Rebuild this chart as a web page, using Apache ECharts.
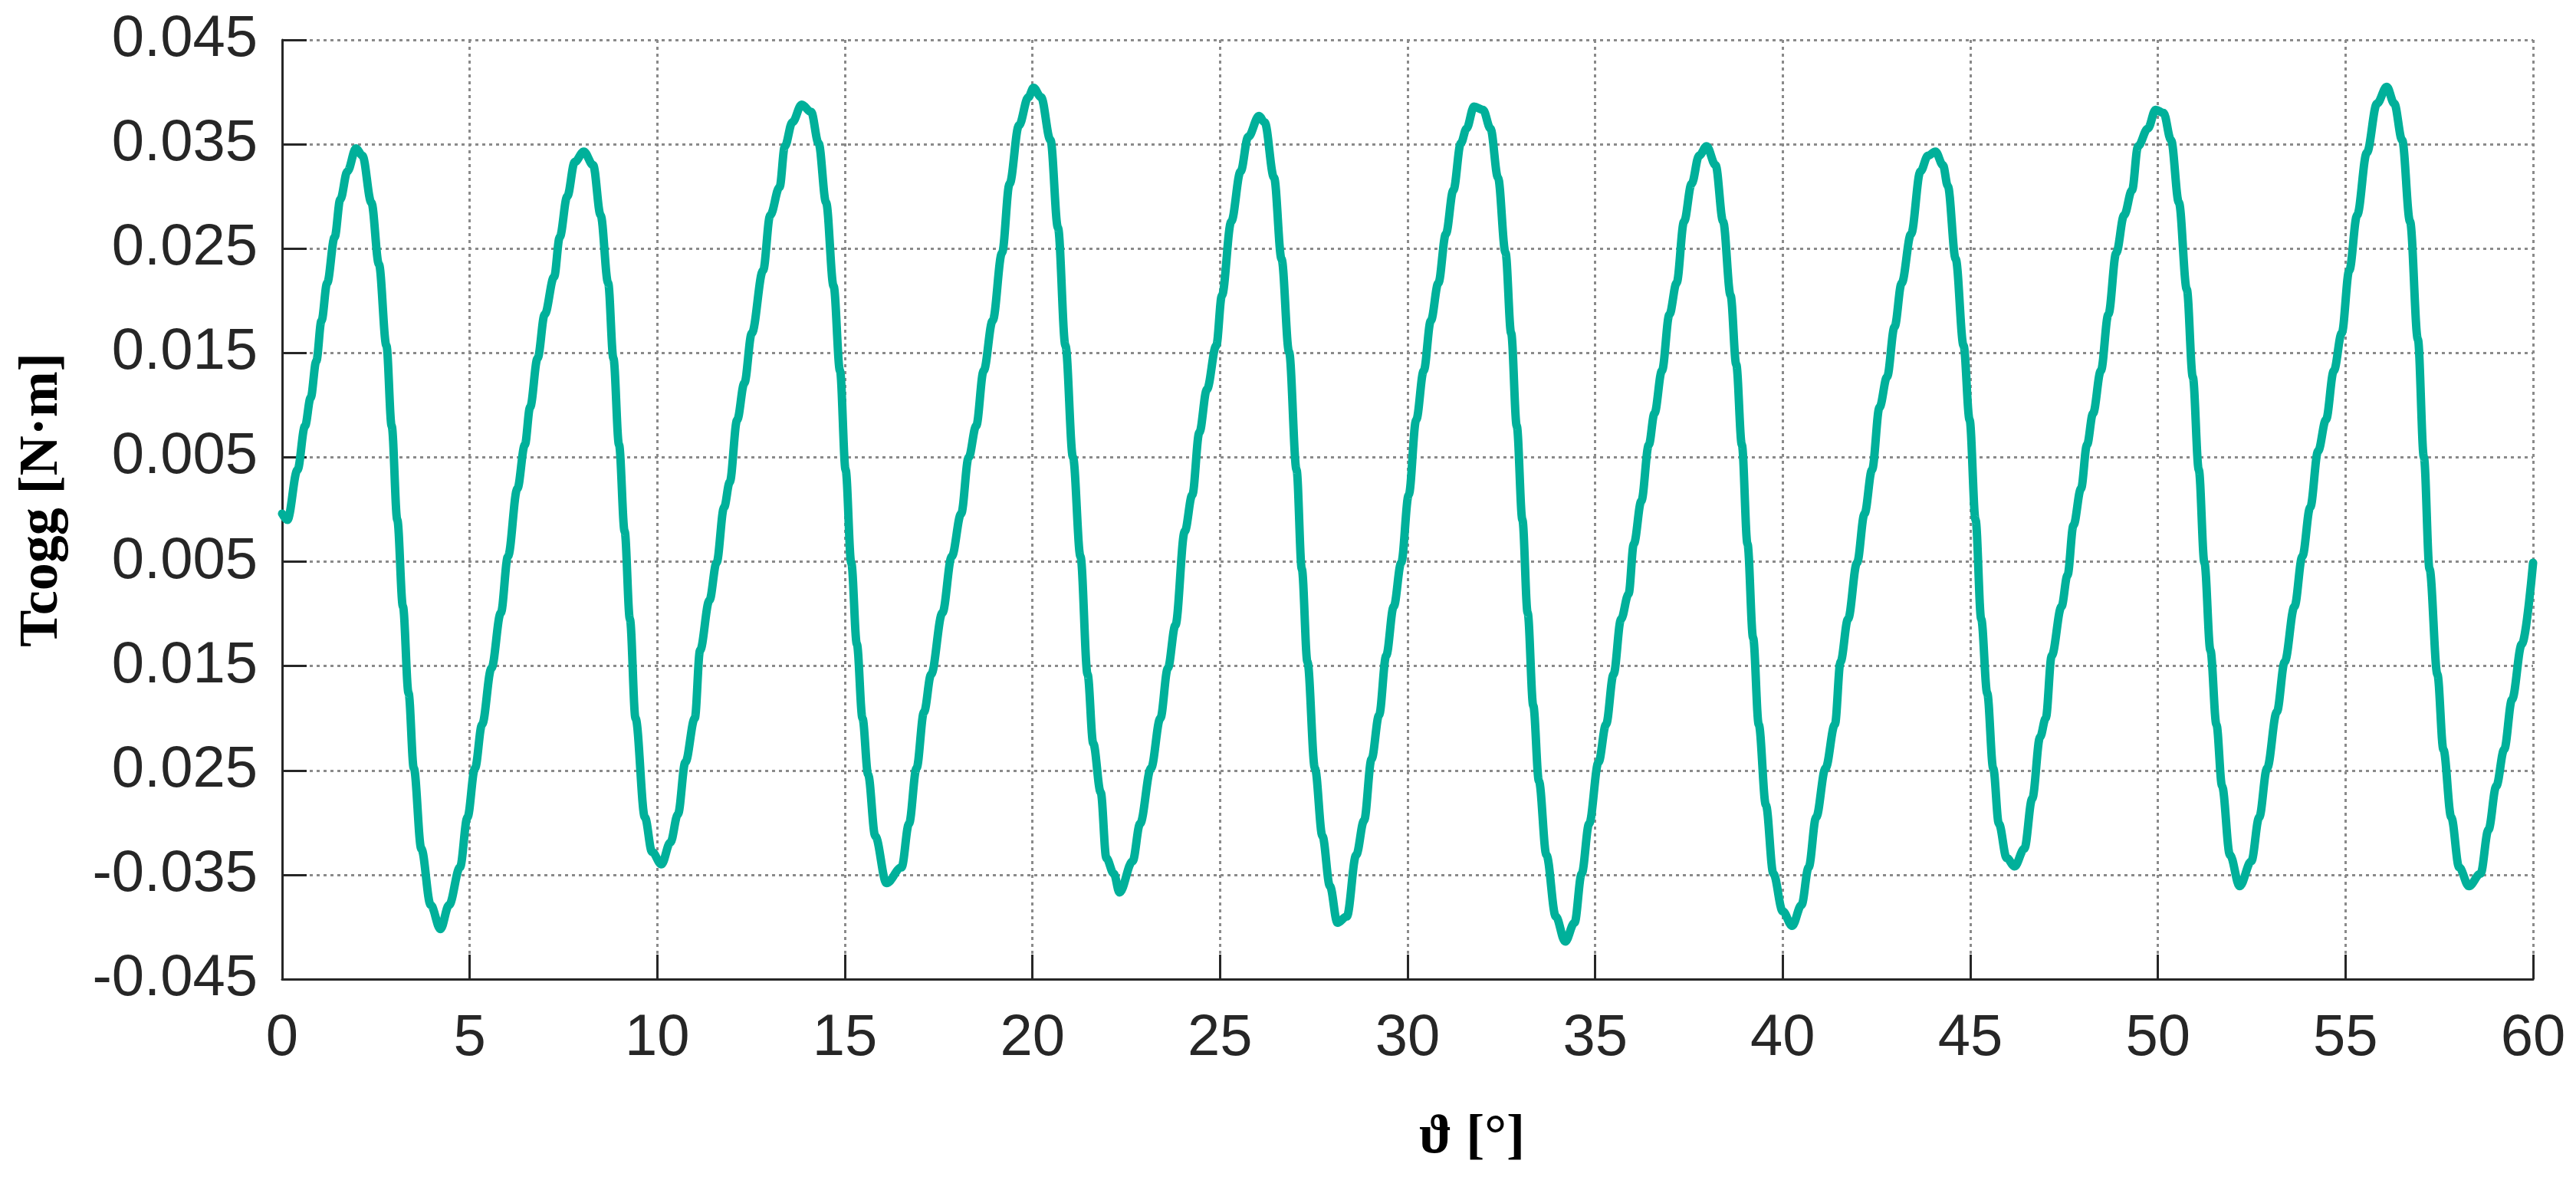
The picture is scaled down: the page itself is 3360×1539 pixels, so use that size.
<!DOCTYPE html>
<html>
<head>
<meta charset="utf-8">
<script src="https://cdn.jsdelivr.net/npm/echarts@6/dist/echarts.min.js"></script>
<style>
html,body{margin:0;padding:0;background:#fff;}
#chart{width:3360px;height:1539px;}
</style>
</head>
<body>
<div id="chart"></div>
<script>
const theta = [0,0.14,0.41,0.61,0.76,0.91,1.05,1.2,1.4,1.55,1.74,1.97,2.14,2.38,2.58,2.78,2.92,3.07,3.22,3.37,3.51,3.71,3.96,4.22,4.45,4.74,4.94,5.14,5.33,5.58,5.83,6.02,6.27,6.47,6.61,6.81,7.0,7.25,7.4,7.6,7.8,8.04,8.29,8.49,8.69,8.83,8.98,9.13,9.27,9.42,9.67,9.86,10.11,10.35,10.55,10.75,11.0,11.14,11.39,11.58,11.78,11.93,12.13,12.32,12.52,12.82,13.01,13.26,13.4,13.6,13.85,14.1,14.3,14.5,14.7,14.87,15.02,15.17,15.32,15.47,15.62,15.81,16.11,16.51,16.71,16.91,17.11,17.3,17.6,17.85,18.1,18.3,18.5,18.7,18.94,19.19,19.39,19.64,19.89,20.03,20.23,20.48,20.68,20.88,21.08,21.28,21.47,21.62,21.82,21.97,22.17,22.32,22.67,22.87,23.16,23.41,23.61,23.81,24.06,24.26,24.45,24.65,24.9,25.05,25.3,25.55,25.75,26.04,26.19,26.44,26.64,26.84,27.04,27.18,27.33,27.53,27.73,27.93,28.13,28.38,28.63,28.84,29.04,29.24,29.43,29.63,29.83,30.03,30.23,30.43,30.62,30.82,31.02,31.22,31.42,31.57,31.77,32.01,32.21,32.41,32.61,32.76,32.91,33.06,33.2,33.35,33.5,33.7,33.95,34.2,34.45,34.64,34.84,35.09,35.29,35.49,35.69,35.89,36.03,36.23,36.43,36.58,36.78,36.98,37.17,37.37,37.57,37.77,37.97,38.21,38.41,38.61,38.76,38.91,39.06,39.21,39.36,39.55,39.75,40.0,40.25,40.5,40.69,40.89,41.14,41.39,41.54,41.74,41.98,42.18,42.38,42.58,42.78,42.98,43.17,43.42,43.67,43.87,44.07,44.27,44.4,44.61,44.82,44.98,45.14,45.29,45.45,45.61,45.76,45.97,46.18,46.44,46.65,46.86,47.01,47.17,47.43,47.59,47.75,47.95,48.11,48.27,48.48,48.68,48.89,49.1,49.31,49.47,49.73,49.94,50.15,50.35,50.56,50.77,50.93,51.09,51.24,51.4,51.56,51.71,51.92,52.18,52.49,52.7,52.91,53.17,53.38,53.64,53.85,54.06,54.27,54.48,54.69,54.9,55.1,55.31,55.57,55.84,56.1,56.3,56.51,56.72,56.93,57.09,57.24,57.45,57.61,57.82,58.03,58.29,58.6,58.81,59.02,59.23,59.44,59.7,60.0];

const tcogg = [-0.0004,-0.001,0.0038,0.008,0.0107,0.0142,0.0181,0.0217,0.0261,0.0297,0.0324,0.0346,0.0339,0.0294,0.0235,0.0157,0.008,-0.001,-0.0093,-0.0176,-0.0248,-0.0325,-0.0379,-0.0402,-0.0379,-0.0343,-0.0295,-0.0248,-0.0206,-0.0152,-0.0099,-0.0045,0.002,0.0062,0.0098,0.0145,0.0187,0.0223,0.0261,0.030,0.0333,0.0343,0.033,0.0282,0.0217,0.0145,0.0062,-0.0021,-0.0105,-0.02,-0.0295,-0.0328,-0.034,-0.0319,-0.0292,-0.0242,-0.02,-0.0135,-0.0087,-0.0051,0.0002,0.0026,0.0086,0.0121,0.0169,0.0229,0.0282,0.0309,0.0348,0.0371,0.0388,0.0381,0.0351,0.0294,0.0214,0.0133,0.0038,-0.0051,-0.0129,-0.02,-0.0254,-0.0313,-0.0358,-0.0343,-0.0301,-0.0248,-0.0194,-0.0158,-0.0099,-0.0045,-0.0004,0.005,0.008,0.0133,0.0181,0.0246,0.0312,0.0368,0.0395,0.0404,0.0395,0.0354,0.027,0.0157,0.005,-0.0045,-0.0158,-0.0224,-0.0271,-0.0334,-0.0349,-0.0367,-0.0337,-0.0301,-0.0248,-0.02,-0.0152,-0.0111,-0.0021,0.0014,0.0074,0.0115,0.0157,0.0205,0.0276,0.0324,0.0357,0.0377,0.0371,0.0318,0.024,0.0151,0.0038,-0.0057,-0.0146,-0.0248,-0.0313,-0.0361,-0.0396,-0.039,-0.0331,-0.0298,-0.0239,-0.0197,-0.014,-0.0093,-0.0051,0.0014,0.0086,0.0133,0.0181,0.0217,0.0264,0.0306,0.0351,0.0365,0.0386,0.0383,0.0365,0.0318,0.0246,0.0169,0.008,-0.001,-0.0099,-0.0188,-0.026,-0.0331,-0.039,-0.0414,-0.0396,-0.0349,-0.0301,-0.0242,-0.0206,-0.0158,-0.0105,-0.0081,-0.0033,0.0008,0.0062,0.0092,0.0133,0.0187,0.0217,0.0276,0.0312,0.0339,0.0348,0.033,0.0276,0.0205,0.0139,0.0062,-0.0033,-0.0123,-0.0206,-0.0283,-0.0349,-0.0385,-0.0399,-0.0379,-0.0343,-0.0295,-0.0248,-0.0206,-0.0146,-0.0105,-0.0051,-0.0004,0.0038,0.0098,0.0127,0.0175,0.0217,0.0264,0.0324,0.0339,0.0343,0.033,0.031,0.024,0.0157,0.0086,-0.001,-0.0105,-0.0176,-0.0248,-0.0301,-0.0334,-0.0342,-0.0325,-0.0277,-0.0218,-0.02,-0.014,-0.0093,-0.0063,-0.0015,0.002,0.0062,0.0092,0.0133,0.0187,0.0246,0.0282,0.0306,0.0348,0.0365,0.0383,0.038,0.0354,0.0294,0.0211,0.0127,0.0038,-0.0051,-0.0135,-0.0206,-0.0265,-0.0331,-0.0361,-0.0337,-0.0295,-0.0248,-0.0194,-0.0146,-0.0093,-0.0045,0.0002,0.0056,0.0086,0.0133,0.0169,0.0229,0.0282,0.0342,0.0389,0.0405,0.0389,0.0354,0.0276,0.0163,0.005,-0.0057,-0.0158,-0.023,-0.0295,-0.0343,-0.0361,-0.0349,-0.0307,-0.0265,-0.023,-0.0182,-0.0129,-0.0051];

// Tick labels as printed in the original figure (minus signs missing on three of them)
const yTickValues = [-0.045,-0.035,-0.025,-0.015,-0.005,0.005,0.015,0.025,0.035,0.045];
const yTickLabels = ['-0.045','-0.035','0.025','0.015','0.005','0.005','0.015','0.025','0.035','0.045'];
const xTickLabels = ['0','5','10','15','20','25','30','35','40','45','50','55','60'];

const xName = 'ϑ [°]';
const yName = 'Tcogg [N·m]';

const chart = echarts.init(document.getElementById('chart'), null, {renderer:'canvas'});
const gridLeft = 368, gridRight = 56, gridTop = 52, gridBottom = 262;

chart.setOption({
  animation:false,
  backgroundColor:'#ffffff',
  grid:{left:gridLeft,right:gridRight,top:gridTop,bottom:gridBottom,containLabel:false},
  xAxis:{
    type:'value',min:0,max:60,interval:5,
    axisLine:{show:true,onZero:false,lineStyle:{color:'#262626',width:3}},
    axisTick:{show:true,inside:true,length:32,lineStyle:{color:'#262626',width:3}},
    axisLabel:{margin:40,fontSize:76,color:'#262626',fontFamily:'Liberation Sans, Arial, sans-serif',
      formatter:function(v){const i=Math.round(v/5);return xTickLabels[i]!==undefined?xTickLabels[i]:'';}},
    splitLine:{show:true,lineStyle:{color:'#8a8a8a',width:3,type:[4,5]}}
  },
  yAxis:{
    type:'value',min:-0.045,max:0.045,interval:0.01,
    axisLine:{show:true,onZero:false,lineStyle:{color:'#262626',width:3}},
    axisTick:{show:true,inside:true,length:32,lineStyle:{color:'#262626',width:3}},
    axisLabel:{margin:32,fontSize:76,color:'#262626',fontFamily:'Liberation Sans, Arial, sans-serif',
      formatter:function(v){const i=Math.round((v+0.045)/0.01);return yTickLabels[i]!==undefined?yTickLabels[i]:'';}},
    splitLine:{show:true,lineStyle:{color:'#8a8a8a',width:3,type:[4,5]}}
  },
  graphic:[
    {type:'text',x:1920,y:1484,style:{text:xName,fill:'#000',font:'bold 72px "Liberation Serif", "DejaVu Serif", serif',textAlign:'center',textVerticalAlign:'middle'}},
    {type:'text',x:55,y:652,rotation:Math.PI/2,style:{text:yName,fill:'#000',font:'bold 72px "Liberation Serif", "DejaVu Serif", serif',textAlign:'center',textVerticalAlign:'middle'}}
  ],
  series:[{
    type:'line',
    data:theta.map((t,i)=>[t,tcogg[i]]),
    showSymbol:false,
    smooth:0.35,
    smoothMonotone:'x',
    lineStyle:{color:'#00b09a',width:11,join:'round',cap:'round'},
    z:5
  }]
});
</script>
</body>
</html>
